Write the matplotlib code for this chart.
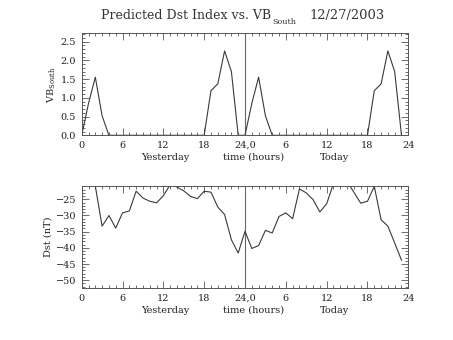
import matplotlib
matplotlib.use("Agg")
import matplotlib.pyplot as plt
from matplotlib.ticker import MultipleLocator, FixedLocator

hours = list(range(48))
vb_south = [0, 0.85, 1.55, 0.52, 0, 0, 0, 0, 0, 0, 0, 0,
            0, 0, 0, 0, 0, 0, 0, 1.19, 1.37, 2.25, 1.70, 0,
            0, 0.85, 1.55, 0.52, 0, 0, 0, 0, 0, 0, 0, 0,
            0, 0, 0, 0, 0, 0, 0, 1.19, 1.37, 2.25, 1.70, 0]
dst = [-17.0, -18.0, -20.9, -33.3, -30.0, -33.9, -29.2, -28.6, -22.5, -24.6, -25.6, -26.1,
       -23.9, -20.5, -21.2, -22.4, -24.1, -24.8, -22.5, -22.8, -27.4, -29.7, -37.5, -41.6,
       -34.9, -40.2, -39.3, -34.6, -35.4, -30.3, -29.2, -31.0, -21.8, -23.0, -25.1, -28.9,
       -26.4, -20.2, -18.0, -19.5, -22.8, -26.2, -25.6, -21.0, -31.3, -33.3, -38.5, -43.8]
xtick_pos = [0, 6, 12, 18, 24, 30, 36, 42, 48]
xtick_labels = ["0", "6", "12", "18", "24,0", "6", "12", "18", "24"]
day_labels = ["Yesterday", "time (hours)", "Today"]
day_label_pos = [12.3, 25.2, 37.1]

plt.rcParams['font.family'] = ['DejaVu Serif']
plt.rcParams['mathtext.fontset'] = 'dejavuserif'

W, H = 453, 340
fig = plt.figure(figsize=(W / 100, H / 100), dpi=100)

def frac(l, t, r, b):
    return [l / W, 1 - b / H, (r - l) / W, (b - t) / H]

ax1 = fig.add_axes(frac(81.7, 33.3, 408.3, 135.3))
ax2 = fig.add_axes(frac(81.7, 185.7, 408.3, 288.3))

lc = '#3a3a3a'
for ax in (ax1, ax2):
    ax.set_xlim(0, 48)
    ax.xaxis.set_major_locator(FixedLocator(xtick_pos))
    ax.set_xticklabels(xtick_labels)
    ax.xaxis.set_minor_locator(MultipleLocator(1))
    ax.tick_params(which='both', direction='in', top=True, right=True,
                   colors='#555555', labelcolor='#222222', labelsize=7, width=0.6)
    ax.tick_params(which='major', length=5, pad=4)
    ax.tick_params(which='minor', length=2.5)
    for s in ax.spines.values():
        s.set_color('#555555')
        s.set_linewidth(0.7)
    ax.axvline(24, color='#666666', lw=0.8)
    for lab, p in zip(day_labels, day_label_pos):
        ax.text(p, -0.215, lab, transform=ax.get_xaxis_transform(), ha='center',
                va='center', fontsize=7, color='#222222')

ax1.plot(hours, vb_south, color=lc, lw=0.8)
ax1.set_ylim(0, 2.72)
ax1.yaxis.set_major_locator(MultipleLocator(0.5))
ax1.yaxis.set_minor_locator(MultipleLocator(0.1))
ax1.yaxis.set_major_formatter(matplotlib.ticker.FormatStrFormatter('%.1f'))
ax1.set_ylabel(r'VB$_{\rm South}$', fontsize=7, color='#222222', labelpad=2)

ax2.plot(hours, dst, color=lc, lw=0.8)
ax2.set_ylim(-52.5, -20.8)
ax2.yaxis.set_major_locator(MultipleLocator(5))
ax2.yaxis.set_minor_locator(MultipleLocator(1))
ax2.set_ylabel('Dst (nT)', fontsize=7, color='#222222', labelpad=2)

fig.text(271 / W, 1 - 15.5 / H, 'Predicted Dst Index vs. VB', ha='right', va='center',
         fontsize=9.0, color='#333333')
fig.text(272 / W, 1 - 21.5 / H, 'South', ha='left', va='center', fontsize=5.8, color='#333333')
fig.text(309 / W, 1 - 15.5 / H, '12/27/2003', ha='left', va='center', fontsize=9.4, color='#333333')

fig.savefig('out.png', dpi=100)
